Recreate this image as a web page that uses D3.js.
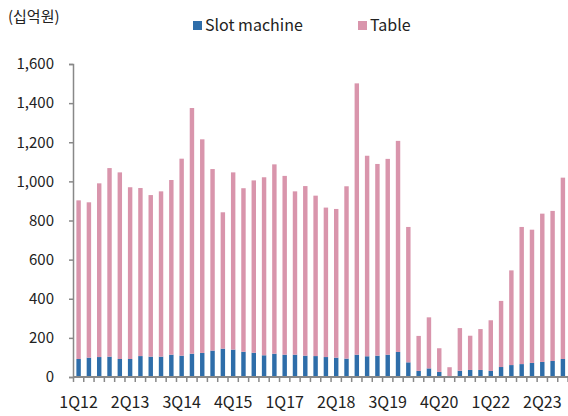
<!DOCTYPE html>
<html>
<head>
<meta charset="utf-8">
<script src="https://cdn.jsdelivr.net/npm/d3@7"></script>
<style>
  body { margin: 0; background: #fff; }
  text { font-family: "Noto Sans CJK KR", "Noto Sans", sans-serif; fill: #222; }
</style>
</head>
<body>
<div id="chart"></div>
<script>
var width = 568;
var height = 416;

// Quarters 1Q12 .. 4Q23
var quarters = [];
for (var yr = 12; yr <= 23; yr++) {
    for (var q = 1; q <= 4; q++) quarters.push(q + "Q" + yr);
}

// 십억원
var slotValues = [92, 99, 102, 104, 92, 92, 107, 104, 104, 114, 109, 119, 123, 135, 145, 140,
    129, 124, 111, 119, 114, 114, 109, 107, 102, 99, 94, 114, 106, 109, 114, 128,
    75, 31, 44, 26, 4, 32, 36, 36, 31, 51, 61, 66, 72, 77, 82, 92];
var totalValues = [903, 893, 990, 1068, 1046, 970, 966, 930, 949, 1007, 1116, 1375, 1215, 1063, 842, 1046,
    965, 1005, 1021, 1087, 1028, 949, 976, 927, 866, 859, 975, 1501, 1131, 1089, 1115, 1207,
    767, 210, 305, 147, 50, 250, 211, 245, 290, 389, 545, 767, 753, 835, 849, 1019];
var tableValues = totalValues.map(function(t, i) { return t - slotValues[i]; });

var seriesNames = ["Slot machine", "Table"];
var seriesColors = ["#2e6da9", "#d995ac"];
var yTicks = [0, 200, 400, 600, 800, 1000, 1200, 1400, 1600];
var xLabelEvery = 5;

var rows = quarters.map(function(d, i) {
    return { q: d, "Slot machine": slotValues[i], "Table": tableValues[i] };
});

var svg = d3.select("#chart")
    .append("svg")
    .attr("width", width)
    .attr("height", height);

var x = d3.scaleBand()
    .domain(quarters)
    .range([73.5, 568])
    .paddingInner(0.57)
    .paddingOuter(0.28);

var y = d3.scaleLinear()
    .domain([0, 1600])
    .range([377, 64]);

var stack = d3.stack().keys(seriesNames)(rows);

svg.selectAll("g.layer")
    .data(stack)
    .enter()
    .append("g")
    .attr("class", "layer")
    .attr("fill", function(d, i) { return seriesColors[i]; })
    .selectAll("rect")
    .data(function(d) { return d; })
    .enter()
    .append("rect")
    .attr("x", function(d) { return x(d.data.q); })
    .attr("width", x.bandwidth())
    .attr("y", function(d) { return y(d[1]); })
    .attr("height", function(d) { return y(d[0]) - y(d[1]); });

// Y axis
var yAxis = svg.append("g")
    .attr("transform", "translate(73,0)")
    .call(d3.axisLeft(y).tickValues(yTicks).tickSize(4).tickPadding(15).tickFormat(d3.format(",")));
yAxis.select(".domain").attr("stroke", "#888").attr("stroke-width", 1.5);
yAxis.selectAll(".tick line").attr("stroke", "#888").attr("stroke-width", 1.5);
yAxis.selectAll("text").attr("font-size", 15).attr("fill", "#222").attr("font-family", "'Noto Sans', sans-serif");

// X axis: ticks sit between bars
var step = x.step();
svg.append("line")
    .attr("x1", 73).attr("x2", 568)
    .attr("y1", 377).attr("y2", 377)
    .attr("stroke", "#888").attr("stroke-width", 2);
svg.selectAll("line.xtick")
    .data(quarters)
    .enter()
    .append("line")
    .attr("class", "xtick")
    .attr("x1", function(d) { return x(d) + x.bandwidth() / 2 + step / 2; })
    .attr("x2", function(d) { return x(d) + x.bandwidth() / 2 + step / 2; })
    .attr("y1", 377).attr("y2", 382)
    .attr("stroke", "#888").attr("stroke-width", 1.5);
svg.append("line")
    .attr("x1", 73.5).attr("x2", 73.5).attr("y1", 377).attr("y2", 382)
    .attr("stroke", "#888").attr("stroke-width", 1.5);

svg.selectAll("text.xlab")
    .data(quarters.filter(function(d, i) { return i % xLabelEvery === 0; }))
    .enter()
    .append("text")
    .attr("class", "xlab")
    .attr("x", function(d) { return x(d) + x.bandwidth() / 2; })
    .attr("y", 408)
    .attr("text-anchor", "middle")
    .attr("font-size", 16)
    .attr("font-family", "'Noto Sans', sans-serif")
    .text(function(d) { return d; });

// Unit label
svg.append("text")
    .attr("x", 8)
    .attr("y", 22)
    .attr("font-size", 15)
    .text("(십억원)");

// Legend
var legendX = [193, 358];
seriesNames.forEach(function(name, i) {
    svg.append("rect")
        .attr("x", legendX[i]).attr("y", 21)
        .attr("width", 9).attr("height", 9)
        .attr("fill", seriesColors[i]);
    svg.append("text")
        .attr("x", legendX[i] + 12).attr("y", 31)
        .attr("font-size", 16)
        .attr("font-family", "'Noto Sans', sans-serif")
        .text(name);
});
</script>
</body>
</html>
